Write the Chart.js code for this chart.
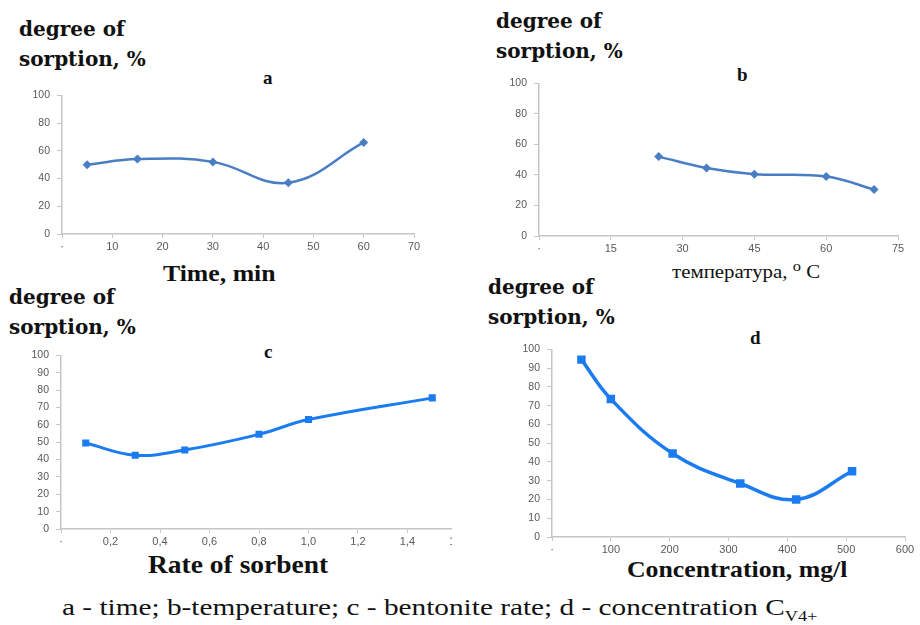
<!DOCTYPE html>
<html>
<head>
<meta charset="utf-8">
<script src="https://cdn.jsdelivr.net/npm/chart.js@4.4.1/dist/chart.umd.min.js"></script>
<style>
  body { margin: 0; background: #fff; }
  #page { position: relative; width: 920px; height: 625px; overflow: hidden; background: #fff; }
  .box { position: absolute; overflow: hidden; }
  .box canvas { position: absolute; left: 0; top: 0; }
  .t { position: absolute; white-space: nowrap; color: #111; transform-origin: left top; }
  .serif { font-family: "Liberation Serif", "Times New Roman", serif; }
  .ylab { font-family: "DejaVu Serif", serif; font-weight: bold; font-size: 20px; line-height: 30px; }
  .letter { font-weight: bold; font-size: 19px; }
  .xtitle { font-weight: bold; font-size: 23px; }
</style>
</head>
<body>
<div id="page">
  <div class="t ylab" style="left:19px; top:14px;">degree of<br>sorption, %</div>
  <div class="t ylab" style="left:496px; top:6px;">degree of<br>sorption, %</div>
  <div class="t ylab" style="left:9px; top:282px;">degree of<br>sorption, %</div>
  <div class="t ylab" style="left:488px; top:272px;">degree of<br>sorption, %</div>

  <div class="t serif letter" style="left:263px; top:67px;">a</div>
  <div class="t serif letter" style="left:737px; top:64px;">b</div>
  <div class="t serif letter" style="left:264px; top:341px;">c</div>
  <div class="t serif letter" style="left:750px; top:327px;">d</div>

  <div class="t serif xtitle" style="left:163px; top:261px; transform:scaleX(1.12);">Time, min</div>
  <div class="t serif" style="left:672px; top:258px; font-size:19px; transform:scaleX(1.1);">температура, <sup style="font-size:15px;">о</sup> C</div>
  <div class="t serif xtitle" style="left:148px; top:551px; font-size:25px; transform:scaleX(1.1);">Rate of sorbent</div>
  <div class="t serif xtitle" style="left:627px; top:557px; transform:scaleX(1.12);">Concentration, mg/l</div>

  <div class="t serif" style="left:62px; top:594px; font-size:24px; transform:scaleX(1.22);">a - time; b-temperature; c - bentonite rate; d - concentration C<sub style="font-size:15px;">V4+</sub></div>

  <div class="box" id="boxA"><canvas id="chartA"></canvas></div>
  <div class="box" id="boxB"><canvas id="chartB"></canvas></div>
  <div class="box" id="boxC"><canvas id="chartC"></canvas></div>
  <div class="box" id="boxD"><canvas id="chartD"></canvas></div>
</div>
<script>
// a - time
var timeMin = [5, 15, 30, 45, 60];
var sorptionA = [50, 54, 52, 37, 66];
var xTicksA = [0, 10, 20, 30, 40, 50, 60, 70];
var xLabelsA = ['·', '10', '20', '30', '40', '50', '60', '70'];
var yTicksA = [0, 20, 40, 60, 80, 100];

// b - temperature
var tempC = [25, 35, 45, 60, 70];
var sorptionB = [52, 44.5, 40.5, 39, 30.5];
var xTicksB = [0, 15, 30, 45, 60, 75];
var xLabelsB = ['·', '15', '30', '45', '60', '75'];
var yTicksB = [0, 20, 40, 60, 80, 100];

// c - rate of sorbent
var sorbentRate = [0.1, 0.3, 0.5, 0.8, 1.0, 1.5];
var sorptionC = [49.5, 42.5, 45.5, 54.5, 63, 75.5];
var xTicksC = [0, 0.2, 0.4, 0.6, 0.8, 1.0, 1.2, 1.4, 1.6];
var xLabelsC = ['·', '0,2', '0,4', '0,6', '0,8', '1,0', '1,2', '1,4', '1,6'];
var yTicksC = [0, 10, 20, 30, 40, 50, 60, 70, 80, 90, 100];

// d - concentration
var concMgL = [50, 100, 205, 320, 415, 510];
var sorptionD = [94.5, 73.5, 44.5, 28.5, 20, 35];
var xTicksD = [0, 100, 200, 300, 400, 500, 600];
var xLabelsD = ['·', '100', '200', '300', '400', '500', '600'];
var yTicksD = [0, 10, 20, 30, 40, 50, 60, 70, 80, 90, 100];

var axisColor = '#c6c6c6';
var tickColor = '#595959';
var YW = 46, XH = 24, PT = 10, PR = 24;

function makeChart(id, boxId, area, clipRight, xs, ys, xTicks, xLabels, yTicks, style) {
  var w = (area.right - area.left) + YW + PR;
  var h = (area.bottom - area.top) + PT + XH;
  var box = document.getElementById(boxId);
  box.style.left = (area.left - YW) + 'px';
  box.style.top = (area.top - PT) + 'px';
  box.style.width = (clipRight ? clipRight - (area.left - YW) : w) + 'px';
  box.style.height = h + 'px';
  var c = document.getElementById(id);
  c.width = w; c.height = h;
  c.style.width = w + 'px'; c.style.height = h + 'px';

  var pts = xs.map(function (x, i) { return { x: x, y: ys[i] }; });
  return new Chart(c.getContext('2d'), {
    type: 'line',
    data: {
      datasets: [{
        data: pts,
        borderColor: style.color,
        backgroundColor: style.color,
        borderWidth: style.lineWidth,
        tension: 0.4,
        pointStyle: style.marker,
        pointRadius: style.radius,
        pointBorderWidth: 0,
        fill: false
      }]
    },
    options: {
      responsive: false,
      animation: false,
      layout: { padding: { top: PT, right: PR, left: 0, bottom: 0 } },
      plugins: { legend: { display: false }, tooltip: { enabled: false } },
      scales: {
        x: {
          type: 'linear',
          min: xTicks[0],
          max: xTicks[xTicks.length - 1],
          afterBuildTicks: function (s) { s.ticks = xTicks.map(function (v) { return { value: v }; }); },
          afterFit: function (s) { s.height = XH; },
          ticks: {
            autoSkip: false, maxRotation: 0, padding: 2,
            color: tickColor, font: { family: 'Liberation Sans', size: 11 },
            callback: function (v) { return xLabels[xTicks.indexOf(v)]; }
          },
          grid: { drawOnChartArea: false, drawTicks: true, tickLength: 4, color: axisColor },
          border: { display: true, color: axisColor, width: 1.5 }
        },
        y: {
          min: yTicks[0],
          max: yTicks[yTicks.length - 1],
          afterBuildTicks: function (s) { s.ticks = yTicks.map(function (v) { return { value: v }; }); },
          afterFit: function (s) { s.width = YW; },
          ticks: {
            padding: 7,
            color: tickColor, font: { family: 'Liberation Sans', size: 10.5 }
          },
          grid: { drawOnChartArea: false, drawTicks: true, tickLength: 5, color: axisColor },
          border: { display: true, color: axisColor, width: 1.5 }
        }
      }
    }
  });
}

var styleAB = { color: '#4a7ec4', lineWidth: 2.5, marker: 'rectRot', radius: 4.5 };
var styleC = { color: '#1a7cf0', lineWidth: 3, marker: 'rect', radius: 5 };
var styleD = { color: '#1a7cf0', lineWidth: 3.5, marker: 'rect', radius: 6 };

makeChart('chartA', 'boxA', { left: 62, right: 414, top: 92, bottom: 234 }, 0,
  timeMin, sorptionA, xTicksA, xLabelsA, yTicksA, styleAB);
makeChart('chartB', 'boxB', { left: 539, right: 898, top: 80, bottom: 236 }, 0,
  tempC, sorptionB, xTicksB, xLabelsB, yTicksB, styleAB);
makeChart('chartC', 'boxC', { left: 61, right: 457, top: 352, bottom: 529 }, 452,
  sorbentRate, sorptionC, xTicksC, xLabelsC, yTicksC, styleC);
makeChart('chartD', 'boxD', { left: 552, right: 905, top: 346, bottom: 537 }, 0,
  concMgL, sorptionD, xTicksD, xLabelsD, yTicksD, styleD);
</script>
</body>
</html>
